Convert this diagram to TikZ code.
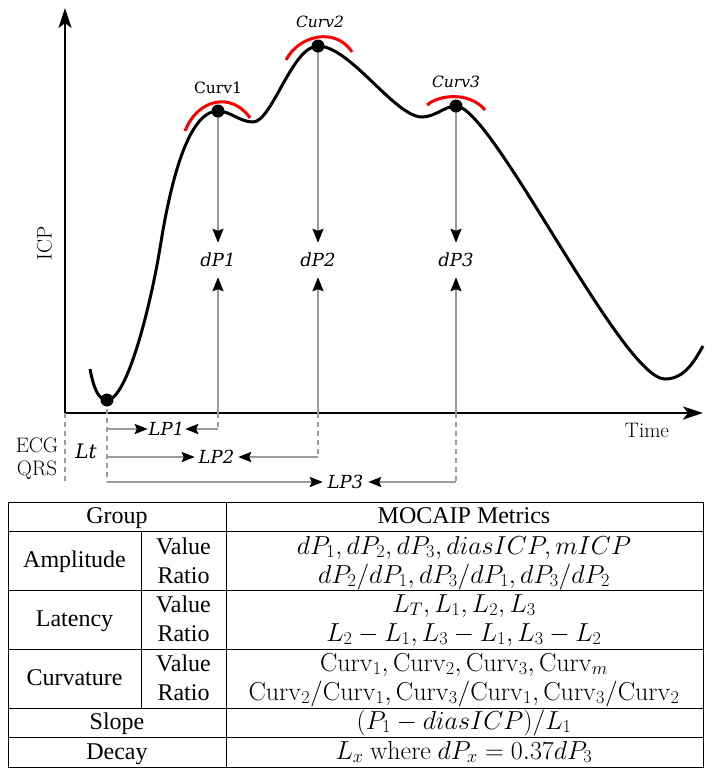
\RequirePackage{fix-cm}
\documentclass[tikz,border=0pt]{standalone}
\usepackage[no-math]{fontspec}
\newfontfamily\tnr{Liberation Serif}
\newfontfamily\dvs{DejaVu Serif}
\usetikzlibrary{arrows.meta}
\definecolor{lgray}{RGB}{155,155,155}
\begin{document}
\begin{tikzpicture}[x=1pt,y=-1pt,
  axisline/.style={line width=2.5pt, {Stealth[length=20pt,width=13pt,inset=5pt]}-{Stealth[length=20pt,width=13pt,inset=5pt]}},
  curveline/.style={line width=3pt},
  redarc/.style={red, line width=3pt},
  dotnode/.style={circle, fill=black, inner sep=0pt, minimum size=13pt},
  garrow/.style={lgray, line width=2.2pt, -{Stealth[length=14pt,width=11pt,inset=2pt,black]}},
  hgarrow/.style={lgray, line width=2.2pt, -{Stealth[length=13pt,width=10pt,inset=2pt,black]}},
  gdash/.style={lgray, line width=2.2pt, dash pattern=on 5pt off 4pt},
  lbl/.style={font=\dvs\itshape\fontsize{18}{20}\selectfont, inner sep=0pt},
  curvlbl/.style={font=\dvs\fontsize{15.5}{18}\selectfont, inner sep=0pt},
  axlbl/.style={font=\fontsize{21}{24}\selectfont, inner sep=0pt},
  tbl/.style={font=\tnr\fontsize{24}{29}\selectfont, inner sep=0pt, anchor=base},
  tblm/.style={font=\tnr\fontsize{26}{30}\selectfont, inner sep=0pt, anchor=base},
  tline/.style={line width=1pt}
]
\useasboundingbox (0,0) rectangle (714,777);

% key coordinates
\coordinate (O) at (65,413);
\coordinate (ytop) at (65,8);
\coordinate (xend) at (703,413);
\coordinate (m0) at (107,400);
\coordinate (p1) at (218,111);
\coordinate (p2) at (318,46);
\coordinate (p3) at (456,106);
\coordinate (a1) at (218,413);
\coordinate (a2) at (318,413);
\coordinate (a3) at (456,413);
\coordinate (b1) at (218,429);
\coordinate (b2) at (318,457);
\coordinate (b3) at (456,482);
\coordinate (c1) at (107,429);
\coordinate (c2) at (107,457);
\coordinate (c3) at (107,482);
\coordinate (Ob) at (65,482);

% axes
\draw[axisline] (ytop) -- (O) -- (xend);

% labels
\node[lbl, minimum height=34pt] (dP1) at (218,260) {dP1};
\node[lbl, minimum height=34pt] (dP2) at (318,260) {dP2};
\node[lbl, minimum height=34pt] (dP3) at (456,260) {dP3};
\node[lbl, minimum width=37pt] (LP1) at (166.5,429) {LP1};
\node[lbl, minimum width=43pt] (LP2) at (216.5,457) {LP2};
\node[lbl, minimum width=45pt] (LP3) at (345.5,482) {LP3};
\node[curvlbl] (cv1) at (218,88) {Curv1};
\node[curvlbl, font=\dvs\itshape\fontsize{15.5}{18}\selectfont] (cv2) at (320,22) {Curv2};
\node[curvlbl, font=\dvs\itshape\fontsize{15.5}{18}\selectfont] (cv3) at (456,82) {Curv3};
\node[axlbl] (ecg) at (37,445) {ECG};
\node[axlbl] (qrs) at (37,470) {QRS};
\node[lbl, font=\dvs\itshape\fontsize{20}{22}\selectfont] (lt) at (86,451) {Lt};
\node[axlbl, rotate=90] (icp) at (44.5,243) {ICP};
\node[axlbl] (time) at (647,430) {Time};

% gray connectors
\draw[garrow] (p1) -- (dP1.north);
\draw[garrow] (p2) -- (dP2.north);
\draw[garrow] (p3) -- (dP3.north);
\draw[garrow] (a1) -- (dP1.south);
\draw[garrow] (a2) -- (dP2.south);
\draw[garrow] (a3) -- (dP3.south);
\draw[gdash] (a1) -- (b1);
\draw[gdash] (a2) -- (b2);
\draw[gdash] (a3) -- (b3);
\draw[gdash] (m0) -- (c3);
\draw[gdash] (O) -- (Ob);
\draw[hgarrow] (b1) -- (LP1.east);
\draw[hgarrow] (b2) -- (LP2.east);
\draw[hgarrow] (b3) -- (LP3.east);
\draw[hgarrow] (c1) -- (LP1.west);
\draw[hgarrow] (c2) -- (LP2.west);
\draw[hgarrow] (c3) -- (LP3.west);

% ICP curve
\draw[curveline] (90,369) .. controls (94,390) and (99,400) .. (m0)
  .. controls (128,400) and (152,298) .. (160,248)
  .. controls (168,198) and (185,111) .. (p1)
  .. controls (230,111) and (240,122) .. (253,122)
  .. controls (272,122) and (292,46) .. (p2)
  .. controls (350,46) and (395,117) .. (422,117)
  .. controls (435,117) and (445,106) .. (p3)
  .. controls (492,106) and (622,379) .. (665,379)
  .. controls (685,379) and (695,360) .. (703,346);

% red curvature arcs
\draw[redarc] (185,131) .. controls (198,98) and (232,92) .. (250,118);
\draw[redarc] (286,60) .. controls (298,36) and (335,26) .. (352,52);
\draw[redarc] (427,105) .. controls (440,94) and (470,92) .. (485,110);

% dots
\node[dotnode] (d0) at (m0) {};
\node[dotnode] (d1) at (p1) {};
\node[dotnode] (d2) at (p2) {};
\node[dotnode] (d3) at (p3) {};

% table
\draw[tline] (8,502) rectangle (703,767);
\foreach \yy in {531,590,649,708,737} \draw[tline] (8,\yy) -- (703,\yy);
\draw[tline] (226,502) -- (226,767);
\draw[tline] (141,531) -- (141,708);

\node[tbl] (tg) at (117,523) {Group};
\node[tbl] (tm) at (464,523) {MOCAIP Metrics};
\node[tbl] (ta) at (74.5,567.5) {Amplitude};
\node[tbl] (tav) at (183.5,554) {Value};
\node[tbl] (tar) at (183.5,583) {Ratio};
\node[tblm] (tavx) at (464,554) {$dP_1,dP_2,dP_3,diasICP,mICP$};
\node[tblm] (tarx) at (464,583) {$dP_2/dP_1,dP_3/dP_1,dP_3/dP_2$};
\node[tbl] (tl) at (74.5,626.5) {Latency};
\node[tbl] (tlv) at (183.5,612) {Value};
\node[tbl] (tlr) at (183.5,641) {Ratio};
\node[tblm] (tlvx) at (464,612) {$L_T,L_1,L_2,L_3$};
\node[tblm] (tlrx) at (464,641) {$L_2-L_1,L_3-L_1,L_3-L_2$};
\node[tbl] (tc) at (74.5,685.5) {Curvature};
\node[tbl] (tcv) at (183.5,671) {Value};
\node[tbl] (tcr) at (183.5,700) {Ratio};
\node[tblm] (tcvx) at (464,671) {$\mathrm{Curv}_1,\mathrm{Curv}_2,\mathrm{Curv}_3,\mathrm{Curv}_m$};
\node[tblm] (tcrx) at (464,700) {$\mathrm{Curv}_2/\mathrm{Curv}_1,\mathrm{Curv}_3/\mathrm{Curv}_1,\mathrm{Curv}_3/\mathrm{Curv}_2$};
\node[tbl] (ts) at (117,729) {Slope};
\node[tblm] (tsx) at (464,729) {$(P_1-diasICP)/L_1$};
\node[tbl] (td) at (117,759) {Decay};
\node[tblm] (tdx) at (464,759) {$L_x\ \mathrm{where}\ dP_x=0.37dP_3$};
\end{tikzpicture}
\end{document}
